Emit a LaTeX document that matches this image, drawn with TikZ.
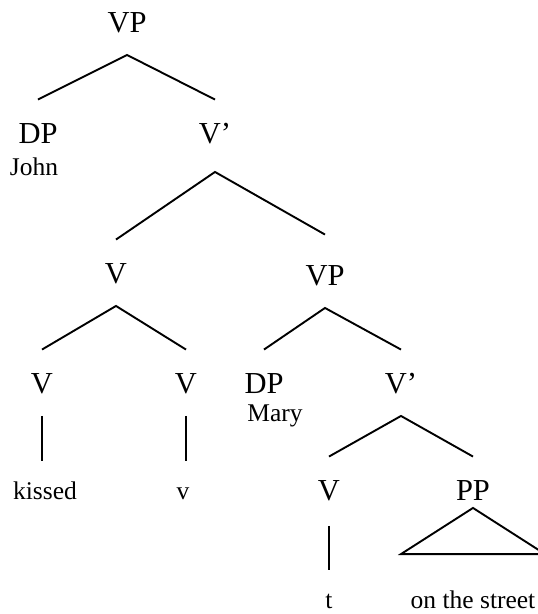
\documentclass[tikz,border=0pt]{standalone}
\usepackage{fontspec}
\setmainfont{Liberation Serif}
\usepackage{tikz}
\usetikzlibrary{positioning}

\begin{document}
\begin{tikzpicture}[x=1pt, y=-1pt, line width=1.9pt,
    cat/.style={anchor=base, font=\fontsize{30.5}{36}\selectfont, inner xsep=0pt, inner ysep=22pt, text height=20.5pt, text depth=0pt},
    word/.style={anchor=base, font=\fontsize{25.5}{30}\selectfont, inner xsep=0pt, inner ysep=19pt, text height=18pt, text depth=0pt}]
    \path[use as bounding box] (0,0) rectangle (538,614);

    % 1. Nhãn các nút
    \node[cat] (vp1) at (127,32) {VP};
    \node[cat] (dp1) at (38,143) {DP};
    \node[word] (john) at (34,175) {John};
    \node[cat] (vb1) at (215,143) {V’};
    \node[cat] (v2) at (116,283) {V};
    \node[cat] (vp2) at (325,285) {VP};
    \node[cat] (v3) at (42,393) {V};
    \node[cat] (v4) at (186,393) {V};
    \node[cat] (dp2) at (264,393) {DP};
    \node[word] (mary) at (275,421) {Mary};
    \node[cat] (vb2) at (401,393) {V’};
    \node[cat] (v5) at (329,500) {V};
    \node[cat] (pp) at (473,500) {PP};
    \node[word] (kissed) at (45,499) {kissed};
    \node[word] (v) at (183,499) {v};
    \node[word] (t) at (329,608) {t};
    \node[word] (street) at (473,608) {on the street};

    % 2. Các nhánh
    \draw (dp1.north) -- (vp1.south) -- (vb1.north);
    \draw (v2.north) -- ([yshift=-6pt]vb1.south) -- ([yshift=7pt]vp2.north);
    \draw (v3.north) -- (v2.south) -- (v4.north);
    \draw (dp2.north) -- (vp2.south) -- (vb2.north);
    \draw (v5.north) -- (vb2.south) -- (pp.north);
    \draw (v3.south) -- (v3.south |- kissed.north);
    \draw (v4.south) -- (v4.south |- v.north);
    \draw ([yshift=-3pt]v5.south) -- (t.north);

    % 3. Tam giác PP
    \draw ([yshift=15pt]pp.south) -- ([xshift=72pt,yshift=16pt]street.north)
        -- ([xshift=-72pt,yshift=16pt]street.north) -- cycle;
\end{tikzpicture}
\end{document}
